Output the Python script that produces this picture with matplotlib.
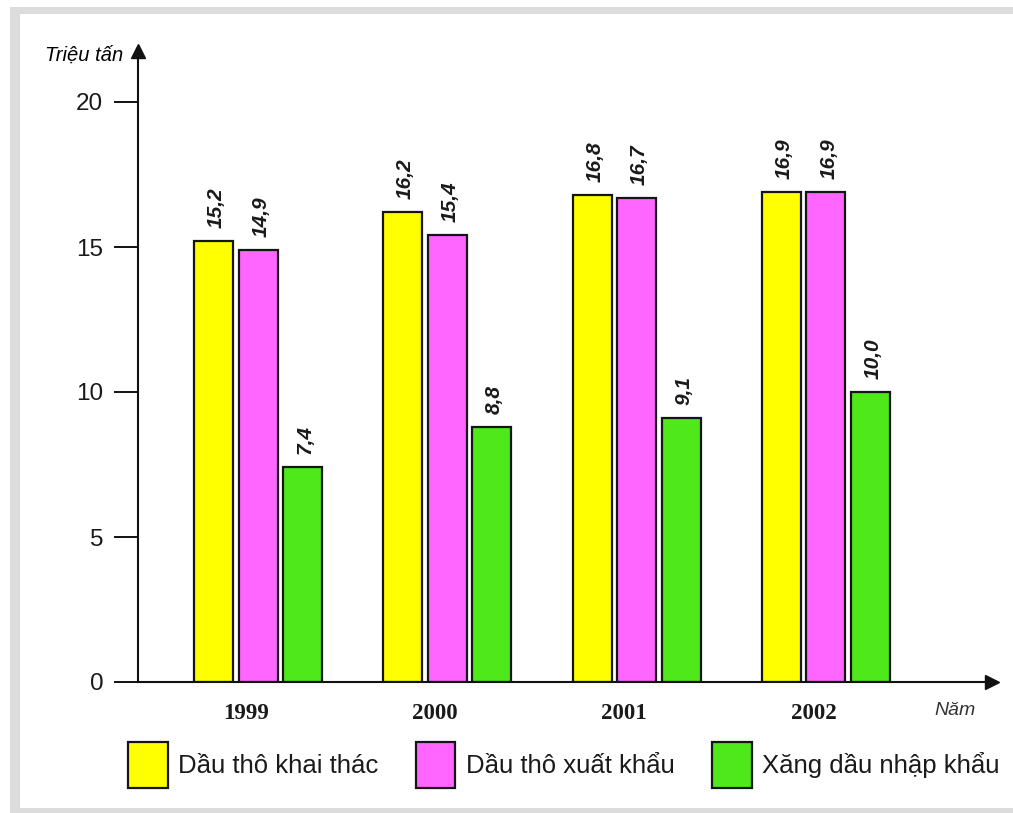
import numpy as np
import matplotlib
matplotlib.use('Agg')
import matplotlib.pyplot as plt
from matplotlib.patches import Rectangle

# du lieu doc tu bieu do
years = ['1999', '2000', '2001', '2002']
khai_thac = [15.2, 16.2, 16.8, 16.9]
xuat_khau = [14.9, 15.4, 16.7, 16.9]
nhap_khau = [7.4, 8.8, 9.1, 10.0]
series_names = ['Dầu thô khai thác', 'Dầu thô xuất khẩu', 'Xăng dầu nhập khẩu']
colors = ['#FFFF00', '#FF66FF', '#4FE81A']
yticks = [0, 5, 10, 15, 20]

W, H = 1013, 813
plt.rcParams['font.family'] = ['Liberation Sans', 'DejaVu Sans']

fig = plt.figure(figsize=(W / 100, H / 100), dpi=100)
fig.patch.set_facecolor('white')

# khung xam quanh hinh
gray = '#DCDCDC'
fig.add_artist(Rectangle((10 / W, 1 - 14 / H), 1, 7 / H, transform=fig.transFigure, color=gray, lw=0))
fig.add_artist(Rectangle((10 / W, 0), 10 / W, 1 - 7 / H, transform=fig.transFigure, color=gray, lw=0))
fig.add_artist(Rectangle((10 / W, 0), 1, 5 / H, transform=fig.transFigure, color=gray, lw=0))

# truc (pixel)
left, right, bottom, top = 138, 992, 682, 51
ax = fig.add_axes([left / W, 1 - bottom / H, (right - left) / W, (bottom - top) / H])
ax.set_facecolor('none')

px_unit = 29.0
ax.set_ylim(0, (bottom - top) / px_unit)
gsp = 189.3
ax.set_xlim(-(258 - left) / gsp, (right - 258) / gsp)

x = np.arange(len(years))
bw = 39 / gsp
step = 44.5 / gsp
all_vals = [khai_thac, xuat_khau, nhap_khau]
handles = []
for k, vals in enumerate(all_vals):
    pos = x + (k - 1) * step
    b = ax.bar(pos, vals, width=bw, color=colors[k], edgecolor='#151515', linewidth=1.6,
               label=series_names[k], zorder=2)
    handles.append(b)
    for xi, v in zip(pos, vals):
        ax.annotate(('%.1f' % v).replace('.', ','), (xi, v), xytext=(2, 9.5),
                    textcoords='offset points', rotation=90, ha='center', va='bottom',
                    fontsize=15, style='italic', fontweight='bold', color='#1a1a1a')

# spines
for s in ['top', 'right']:
    ax.spines[s].set_visible(False)
for s in ['left', 'bottom']:
    ax.spines[s].set_linewidth(1.5)
    ax.spines[s].set_color('#111111')
ax.plot(0, 1, '^', color='#111111', markersize=9.5, transform=ax.transAxes, clip_on=False)
ax.plot(1, 0, '>', color='#111111', markersize=9.5, transform=ax.transAxes, clip_on=False)

ax.set_yticks(yticks)
ax.set_yticklabels([str(t) for t in yticks])
ax.tick_params(axis='y', length=17, width=1.4, pad=8, labelsize=17.5, color='#111111',
               labelcolor='#1a1a1a')
ax.set_xticks(x - 0.065)
ax.set_xticklabels(years, family='Liberation Serif', fontweight='bold', fontsize=16.5,
                   color='#1a1a1a')
ax.tick_params(axis='x', length=0, pad=15)

fig.text(84 / W, 1 - 55 / H, 'Triệu tấn', style='italic', fontsize=14.5, ha='center', va='center')
fig.text(955 / W, 1 - 710 / H, 'Năm', style='italic', fontsize=14, ha='center', va='center',
         color='#333333')

ax.legend(handles=handles, loc='center left', bbox_to_anchor=(128 / W, 1 - 765 / H),
          bbox_transform=fig.transFigure, ncol=3, frameon=False, fontsize=18.5,
          handlelength=1.55, handleheight=2.4, handletextpad=0.4, columnspacing=1.45,
          borderpad=0, borderaxespad=0, labelcolor='#1a1a1a')

fig.savefig('out.png', dpi=100)
